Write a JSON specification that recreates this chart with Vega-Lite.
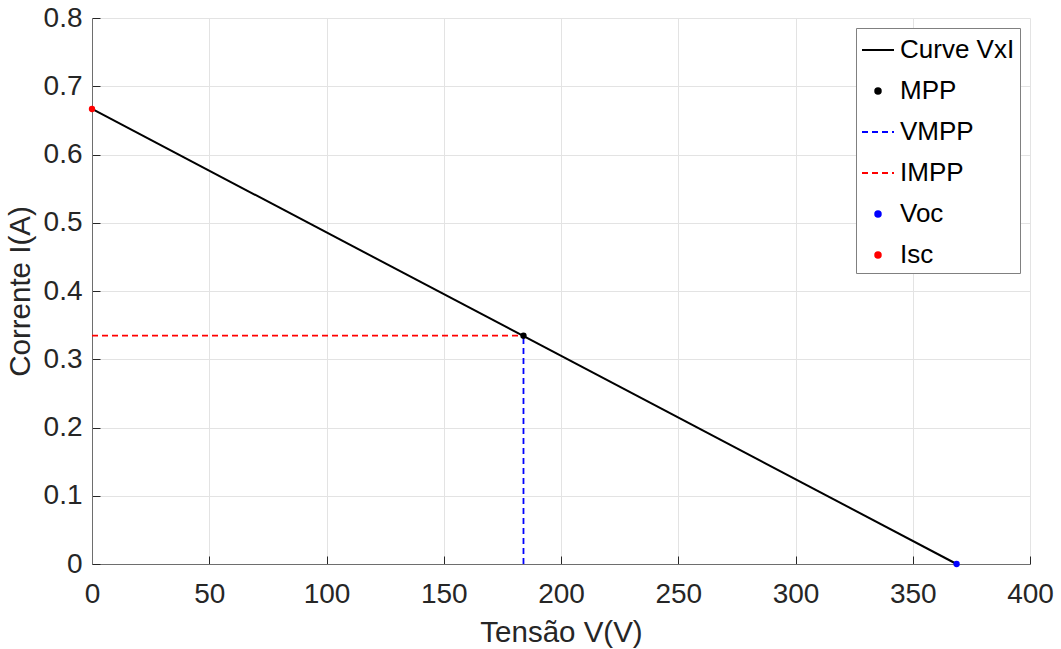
{
  "$schema": "https://vega.github.io/schema/vega-lite/v6.json",
  "width": 938,
  "height": 546,
  "autosize": "none",
  "padding": {"left": 92, "top": 18, "right": 31, "bottom": 85},
  "background": "white",
  "config": {
    "font": "Liberation Sans",
    "view": {"stroke": null},
    "axis": {
      "labelFont": "Liberation Sans",
      "labelFontSize": 28,
      "labelColor": "#262626",
      "titleFont": "Liberation Sans",
      "titleFontSize": 29.5,
      "titleFontWeight": "normal",
      "titleColor": "#262626",
      "domainColor": "#6e6e6e",
      "domainWidth": 1,
      "tickColor": "#262626",
      "tickSize": -8,
      "tickWidth": 1,
      "grid": true,
      "gridColor": "#e3e3e3",
      "gridWidth": 1
    }
  },
  "data": {
    "values": [
      {"series": "Curve VxI", "V": 0, "I": 0.6667},
      {"series": "Curve VxI", "V": 368.7, "I": 0},
      {"series": "MPP", "V": 184, "I": 0.3345},
      {"series": "VMPP", "V": 184, "I": 0},
      {"series": "VMPP", "V": 184, "I": 0.3345},
      {"series": "IMPP", "V": 0, "I": 0.3345},
      {"series": "IMPP", "V": 184, "I": 0.3345},
      {"series": "Voc", "V": 368.7, "I": 0},
      {"series": "Isc", "V": 0, "I": 0.6667}
    ]
  },
  "encoding": {
    "x": {
      "field": "V",
      "type": "quantitative",
      "scale": {"domain": [0, 400], "nice": false, "zero": false},
      "axis": {
        "title": "Tensão V(V)",
        "values": [0, 50, 100, 150, 200, 250, 300, 350, 400],
        "format": "d",
        "labelPadding": 24,
        "titlePadding": 10,
        "labelFlush": false
      }
    },
    "y": {
      "field": "I",
      "type": "quantitative",
      "scale": {"domain": [0, 0.8], "nice": false, "zero": false},
      "axis": {
        "title": "Corrente I(A)",
        "values": [0, 0.1, 0.2, 0.3, 0.4, 0.5, 0.6, 0.7, 0.8],
        "format": ".1~f",
        "labelPadding": 18,
        "titlePadding": 8,
        "labelFlush": false
      }
    },
    "color": {
      "field": "series",
      "type": "nominal",
      "scale": {
        "domain": ["Curve VxI", "MPP", "VMPP", "IMPP", "Voc", "Isc"],
        "range": ["#000000", "#000000", "#0000ff", "#ff0000", "#0000ff", "#ff0000"]
      },
      "legend": {
        "title": null,
        "orient": "top-right",
        "offset": 10,
        "fillColor": "white",
        "strokeColor": "#808080",
        "padding": 5,
        "cornerRadius": 0,
        "labelFont": "Liberation Sans",
        "labelFontSize": 26,
        "labelColor": "#000000",
        "labelOffset": 5,
        "rowPadding": 11,
        "symbolSize": 1024,
        "symbolStrokeWidth": 2,
        "symbolType": "stroke",
        "encode": {
          "symbols": {
            "update": {
              "shape": {"signal": "indexof(['MPP','Voc','Isc'], datum.value) >= 0 ? 'circle' : 'stroke'"},
              "size": {"signal": "indexof(['MPP','Voc','Isc'], datum.value) >= 0 ? 30 : 1024"},
              "fill": {"signal": "scale('color', datum.value)"},
              "stroke": {"signal": "indexof(['MPP','Voc','Isc'], datum.value) >= 0 ? 'transparent' : scale('color', datum.value)"},
              "strokeDash": {"signal": "indexof(['VMPP','IMPP'], datum.value) >= 0 ? [6,4] : []"},
              "strokeWidth": {"value": 2},
              "opacity": {"value": 1}
            }
          }
        }
      }
    }
  },
  "layer": [
    {
      "transform": [{"filter": "datum.series === 'Curve VxI'"}],
      "mark": {"type": "line", "strokeWidth": 2}
    },
    {
      "transform": [{"filter": "datum.series === 'VMPP' || datum.series === 'IMPP'"}],
      "mark": {"type": "line", "strokeWidth": 1.8, "strokeDash": [6, 4]}
    },
    {
      "transform": [{"filter": "datum.series === 'MPP' || datum.series === 'Voc' || datum.series === 'Isc'"}],
      "mark": {"type": "point", "filled": true, "size": 40, "opacity": 1, "shape": "circle"}
    }
  ]
}
